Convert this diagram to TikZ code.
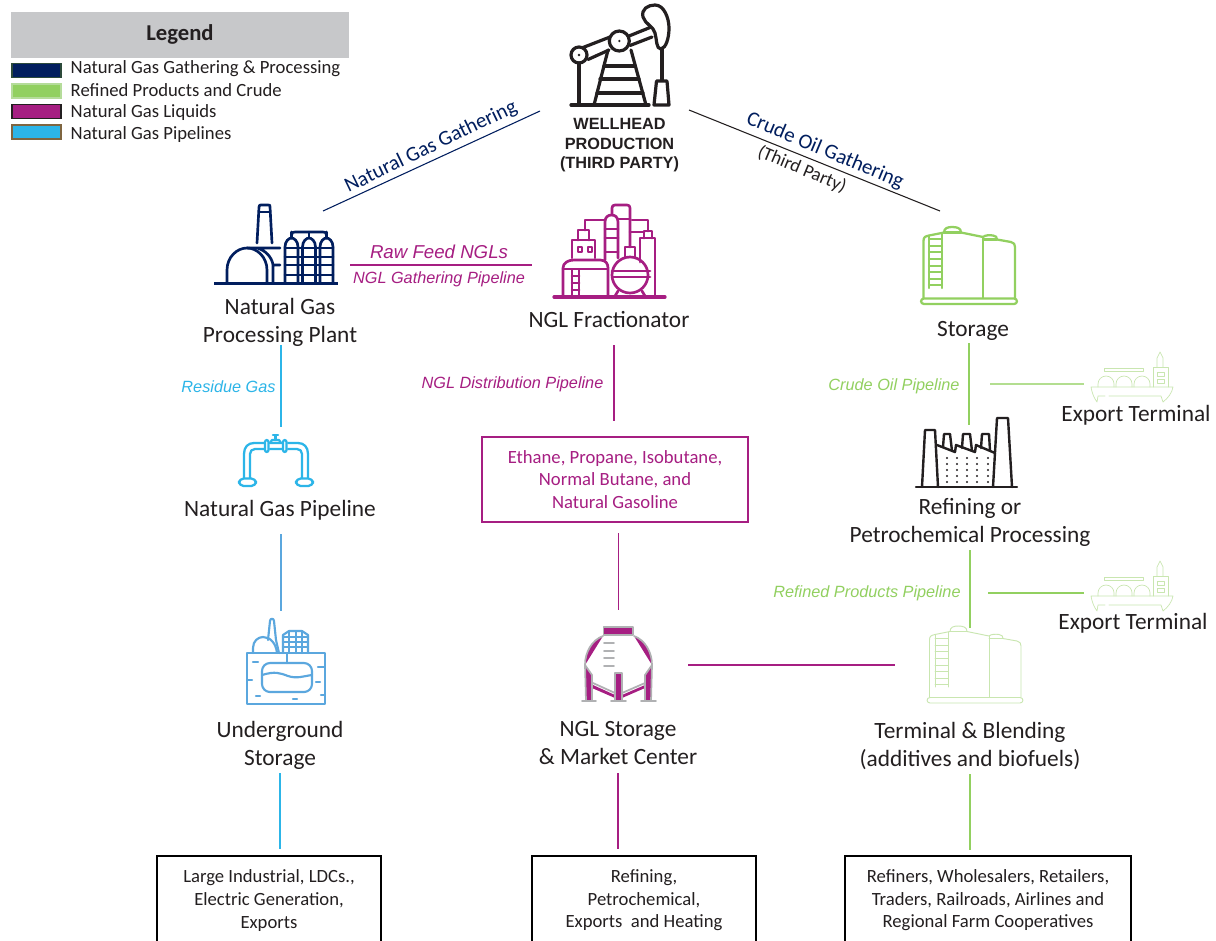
\documentclass[tikz,border=0pt]{standalone}
\usepackage{fontspec}
\setmainfont{Carlito}
\newfontfamily\arialf{Liberation Sans}
\definecolor{navyc}{HTML}{011E5E}
\definecolor{greenc}{HTML}{92D060}
\definecolor{magc}{HTML}{A61E82}
\definecolor{cyanc}{HTML}{2CB5E8}
\definecolor{blueic}{HTML}{5BA7DE}
\definecolor{darkc}{HTML}{231F20}
\definecolor{greyc}{HTML}{C7C8CA}
\definecolor{paleg}{HTML}{C9E6B0}
\definecolor{midgrey}{HTML}{B0B1B3}
\tikzset{
  lab/.style={text=darkc,align=center,font=\fontsize{17.5}{21}\selectfont},
  leg/.style={text=darkc,anchor=west,font=\fontsize{14}{15}\selectfont},
  itl/.style={font=\arialf\itshape\fontsize{12.2}{14}\selectfont},
  boxt/.style={text=darkc,align=center,font=\fontsize{14}{16.9}\selectfont},
  endbox/.style={boxt,draw=black,line width=.9pt,minimum height=66.75pt,inner sep=0pt},
  conn/.style={line width=1pt},
  swatch/.style={line width=1.2pt},
  ico/.style={line cap=round,line join=round},
  pics/tank/.style={code={
    \draw[rounded corners=2.2] (921,298.5) rectangle (1017,304);
    \draw (923.5,298) -- (923.5,241) .. controls (923.5,237) and (925,236.5) .. (929,235.5) -- (944,232.5)
      .. controls (944,228) and (948,227) .. (952,227) .. controls (957,227) and (961,228) .. (961,232.5) -- (983,237)
      .. controls (985,235) and (990,235) .. (993,235.5) .. controls (996,236) and (997,237) .. (997,239.5) -- (1011,242)
      .. controls (1014,243) and (1015,244) .. (1015,247) -- (1015,298);
    \draw (961,232.5) -- (944,232.5);
    \draw (983,237) -- (983,298);
    \draw (983,239.5) -- (997,239.5);
    \draw (929,236) -- (929,288) (942,233) -- (942,288);
    \foreach \yy in {239,246,252,259,266,272,279,285} \draw (929,\yy) -- (942,\yy);
  }},
  pics/ship/.style={code={
    \draw (1091,387) -- (1173,387) .. controls (1172,393) and (1168,398) .. (1163,402) -- (1161,396) -- (1109,396)
      (1105,396) -- (1098,396) -- (1097,402) .. controls (1094,398) and (1092,393) .. (1091,387);
    \foreach \cx in {1106,1124,1142} \draw (\cx-8,387) -- (\cx-8,384) arc[start angle=180,end angle=360,radius=8] -- (\cx+8,387);
    \draw (1104,368) -- (1143,368) -- (1143,371) -- (1104,371) -- cycle;
    \draw (1153,387) -- (1153,367) -- (1168,367) -- (1168,387);
    \draw (1157,367) -- (1157,358) -- (1160,352) -- (1163,358) -- (1163,367);
    \draw (1157,372) rectangle (1164,376) (1157,379) rectangle (1164,383);
  }}
}
\begin{document}
\begin{tikzpicture}[x=0.75pt,y=-0.75pt]
\useasboundingbox (0,0) rectangle (1216,940);
\clip (0,0) rectangle (1216,940);
\fill[white] (0,0) rectangle (1216,940);

% legend
\node[fill=greyc,minimum width=253.5pt,minimum height=34.5pt,inner sep=0pt,text=darkc,font=\bfseries\fontsize{17}{18}\selectfont] (legendtitle) at (180,34.5) {Legend};
\node[draw={rgb,255:red,44;green,74;blue,58},fill=navyc,swatch,minimum width=37pt,minimum height=10.5pt,inner sep=0pt] (sw1) at (36.5,70.5) {};
\node[draw={rgb,255:red,181;green,220;blue,154},fill=greenc,swatch,minimum width=37pt,minimum height=10.5pt,inner sep=0pt] (sw2) at (36.5,91) {};
\node[draw=darkc,fill=magc,swatch,minimum width=37pt,minimum height=10.5pt,inner sep=0pt] (sw3) at (36.5,111.5) {};
\node[draw={rgb,255:red,127;green,101;blue,64},fill=cyanc,swatch,minimum width=37pt,minimum height=10.5pt,inner sep=0pt] (sw4) at (36.5,132) {};
\node[leg] (lg1) at (66,68.5) {Natural Gas Gathering \& Processing};
\node[leg] (lg2) at (66,90) {Refined Products and Crude};
\node[leg] (lg3) at (66,112.5) {Natural Gas Liquids};
\node[leg] (lg4) at (66,135) {Natural Gas Pipelines};

% pump jack
\begin{scope}[ico,draw=darkc,line width=2.4pt]
\draw (571,105) -- (649,105);
\draw (579,63) -- (579,105);
\draw (579,55) circle[radius=8];
\draw (619.3,41) circle[radius=10];
\fill[darkc] (579,55) circle[radius=1.3] (619.3,41) circle[radius=1.3];
\draw (583,47.5) -- (610,37) (588,59.5) -- (609,50);
\draw (629,36) -- (650,27.5) (630,45.5) -- (652,37);
\draw (608,50) -- (594,105) (631,50) -- (646,105);
\draw (604,66) -- (635,66) (600,79) -- (639,79) (597,93) -- (643,93);
\draw (643,17) .. controls (641,9) and (648,5) .. (655,5) .. controls (664,5) and (669,18) .. (669,28)
  .. controls (669,38) and (666,48) .. (661,49) .. controls (656,49) and (657,40) .. (655,33) .. controls (654,27) and (645,24) .. (643,17) -- cycle;
\draw (662,49) -- (662,80);
\draw (656.5,81) -- (667,81) -- (669,105) -- (654,105) -- cycle;
\end{scope}
\node[font=\arialf\bfseries\fontsize{12.2}{14.6}\selectfont,text=darkc,align=center] (wellhead) at (619.5,145.5) {WELLHEAD\\PRODUCTION\\(THIRD PARTY)};

% gas plant
\begin{scope}[ico,draw=navyc,line width=2pt]
\draw[line width=2.4pt,line cap=butt] (214,283.5) -- (338,283.5);
\draw (257,243) -- (259,207) .. controls (259,205) and (260,205) .. (261,205) -- (268,205) .. controls (270,205) and (270,205) .. (270,207) -- (272,243);
\draw (259,212) -- (270,212);
\draw (227,283) -- (227,270) .. controls (227,257) and (237,248) .. (247,248) .. controls (257,248) and (267,257) .. (267,270) -- (267,283);
\draw (247,248) -- (280,248) (257,248) .. controls (265,250) and (272,257) .. (273,265) -- (280,265) (273,265) -- (273,283);
\foreach \tx in {285,302.5,320} {
  \draw (\tx,283) -- (\tx,247) .. controls (\tx,241) and (\tx+4,238) .. (\tx+6.5,238) .. controls (\tx+9,238) and (\tx+13,241) .. (\tx+13,247) -- (\tx+13,283);
  \foreach \yy in {248,257,265,275} \draw (\tx,\yy) -- (\tx+13,\yy);
  \draw (\tx+6.5,238) -- (\tx+6.5,232);
}
\draw (291.5,238) -- (291.5,235) .. controls (291.5,232.5) and (293,232) .. (295,232) -- (323,232) .. controls (325,232) and (326.5,232.5) .. (326.5,235) -- (326.5,238);
\draw (298,248) -- (302.5,248) (298,257) -- (302.5,257) (298,265) -- (302.5,265) (298,275) -- (302.5,275);
\draw (315.5,248) -- (320,248) (315.5,257) -- (320,257) (315.5,265) -- (320,265) (315.5,275) -- (320,275);
\end{scope}
\node[lab] (plant) at (280,322) {Natural Gas\\[0pt] Processing Plant};

% fractionator
\begin{scope}[ico,draw=magc,line width=2pt]
\draw[line width=2.4pt] (554,297) -- (665,297);
\draw (563,296) -- (563,268) .. controls (563,263) and (568,260) .. (574,260) -- (600,260) .. controls (606,260) and (608,264) .. (608,268) -- (608,296);
\draw (563,269) -- (607,269) (572,270) -- (572,296) (579,270) -- (579,296);
\draw (572,276) -- (579,276) (572,283) -- (579,283) (572,290) -- (579,290);
\draw (572,258) -- (572,240) -- (595,240) -- (595,258);
\draw (578,240) -- (578,230) -- (589,230) -- (589,240);
\draw (578,247) rectangle (582,252) (588,247) rectangle (592,252);
\draw (585,230) -- (585,220) -- (605,220);
\draw (605,260) -- (605,222) .. controls (605,217) and (608,215) .. (611.5,215) .. controls (615,215) and (618,217) .. (618,222) -- (618,258);
\draw (605,229) -- (618,229) (605,238) -- (618,238) (605,252) -- (618,252);
\draw (612,215) -- (612,208) .. controls (612,206) and (613,205) .. (615,205) -- (627,205) .. controls (629,205) and (630,206) .. (630,208) -- (630,247);
\draw (618,219) -- (630,219);
\draw (630,275) circle[radius=18];
\draw (625,257) -- (625,247) -- (635,247) -- (635,257);
\draw (612,271) -- (650,271) (612,277) -- (650,277);
\draw (618,291) -- (615,296) (642,291) -- (645,296);
\draw (640,262) -- (640,238) -- (655,238) -- (655,296);
\draw (644,238) -- (644,231) -- (652,231) -- (652,238);
\draw (632,220) -- (648,220) -- (648,231);
\draw (630,232) -- (644,232);
\end{scope}
\node[lab] (fract) at (609,319.5) {NGL Fractionator};

% storage
\pic[ico,draw=greenc,line width=1.7pt] (storagetank) at (0,0) {tank};
\node[lab] (storage) at (973,330.5) {Storage};

% ships
\pic[ico,draw=paleg,line width=.5pt,double=white,double distance=.7pt] (shipa) at (0,0) {ship};
\pic[ico,draw=paleg,line width=.5pt,double=white,double distance=.7pt] (shipb) at (0,209) {ship};
\node[lab] (exp1) at (1136,415.5) {Export Terminal};
\node[lab] (exp2) at (1133,623.5) {Export Terminal};

% factory
\begin{scope}[ico,draw=darkc,line width=1.8pt]
\draw (916,487) -- (1017,487);
\draw (922,487) -- (925,430) -- (935,430) -- (938,487);
\draw (993,487) -- (997,418) -- (1008,418) -- (1012,487);
\draw (937,445) -- (955,452) -- (956,445) -- (975,452) -- (976,445) -- (995,453);
\draw (943,447) -- (944,434) -- (950,434) -- (952,451);
\draw (962,448) -- (963,434) -- (970,434) -- (972,451);
\draw (981,448) -- (982,434) -- (989,434) -- (990,451);
\foreach \dx in {947,957,967,977,988} \foreach \dy in {458,464,470,476,482}
  \fill[darkc] (\dx,\dy) circle[radius=1.2];
\end{scope}
\node[lab] (refin) at (970,522.5) {Refining or\\[0pt] Petrochemical Processing};

% pipeline
\begin{scope}[ico,draw=cyanc,line width=1.7pt]
\draw (244,478) -- (244,454) .. controls (244,447) and (248,443) .. (254,443) -- (264,443) (270,443) -- (282,443) (288,443) -- (298,443) .. controls (304,443) and (308,447) .. (308,454) -- (308,478);
\draw (250,478) -- (250,454) .. controls (250,451) and (252,449) .. (255,449) -- (264,449) (270,449) -- (282,449) (288,449) -- (297,449) .. controls (300,449) and (302,451) .. (302,454) -- (302,478);
\draw[rounded corners=3.5] (239,478.5) rectangle (256,486);
\draw[rounded corners=3.5] (296,478.5) rectangle (313,486);
\draw[rounded corners=1.5] (265,440) rectangle (268.5,452);
\draw[rounded corners=1.5] (283,440) rectangle (286.5,452);
\draw (270,443) -- (272,440) -- (279,440) -- (281,443);
\draw (275.5,440) -- (275.5,436) (273,435) -- (278,435);
\end{scope}
\node[lab] (ngp) at (280,510.5) {Natural Gas Pipeline};

% underground storage
\begin{scope}[ico,draw=blueic,line width=1.6pt]
\draw (247,653) rectangle (325,704);
\draw[rounded corners=6] (262,663) rectangle (312,692);
\draw (287,653) -- (287,663);
\draw (262,675) .. controls (275,671) and (280,673) .. (288,676) .. controls (297,679) and (304,676) .. (312,675);
\draw (253,653) -- (253,648) .. controls (253,641) and (258,637) .. (263,637) .. controls (270,637) and (276,643) .. (277,653);
\draw (268,640) -- (270,621) .. controls (270,618) and (274,618) .. (274,621) -- (276,640) -- (279,653);
\draw (283,653) -- (283,635) -- (289,631) -- (302,631) -- (308,635) -- (308,653);
\foreach \yy in {637,642,647} \draw (283,\yy) -- (308,\yy);
\foreach \xx in {289,296,302} \draw (\xx,632) -- (\xx,653);
\draw (253,662) -- (258,662) (248,680) -- (252,680) (256,696) -- (260,696) (293,699) -- (297,699) (318,667) -- (324,667) (316,682) -- (320,682) (321,695) -- (324,695);
\end{scope}
\node[lab] (ugs) at (280,745) {Underground\\[0pt] Storage};

% NGL storage
\fill[magc] (603,636) -- (585,665) .. controls (585,652) and (592,640) .. (603,636) -- cycle;
\fill[magc] (634,636) -- (652,665) .. controls (652,652) and (645,640) .. (634,636) -- cycle;
\fill[magc] (593,685) -- (615,695) -- (615,698) -- (592,688) -- cycle;
\fill[magc] (645,685) -- (622,695) -- (622,698) -- (645,688) -- cycle;
\begin{scope}[ico,draw=midgrey,line width=1.3pt]
\draw[fill=magc] (603.5,627) rectangle (633,635);
\draw (603,636) .. controls (592,640) and (585,652) .. (585,665);
\draw (634,636) .. controls (645,640) and (652,652) .. (652,665);
\draw[fill=magc] (585,665) -- (592,675) -- (592,701) -- (586,701) -- cycle;
\draw[fill=magc] (652,665) -- (645,675) -- (645,701) -- (651,701) -- cycle;
\draw[fill=magc] (615,673) rectangle (622,701);
\draw (593,683) -- (615,693) (645,683) -- (622,693);
\draw (582,701) -- (596,701) (611,701) -- (626,701) (641,701) -- (656,701);
\draw (604,643) -- (614,643) (604,651) -- (614,651) (604,658) -- (614,658) (604,666) -- (614,666);
\end{scope}
\node[lab] (ngls) at (618,743) {NGL Storage\\[0pt] \& Market Center};

% terminal tank
\pic[ico,draw=paleg,line width=.7pt,double=white,double distance=.8pt] (termtank) at (6,399) {tank};
\node[lab] (term) at (970,746) {Terminal \& Blending\\[0pt] (additives and biofuels)};

% middle and end boxes
\node[boxt,draw=magc,line width=1.2pt,text=magc,minimum width=199.5pt,minimum height=63.75pt,inner sep=0pt] (products) at (615,479.5) {Ethane, Propane, Isobutane,\\Normal Butane, and\\Natural Gasoline};
\node[endbox,minimum width=168pt] (end1) at (269,900.5) {Large Industrial, LDCs.,\\Electric Generation,\\Exports};
\node[endbox,minimum width=168pt] (end2) at (644,900.5) {Refining,\\Petrochemical,\\Exports\ \ and Heating};
\node[endbox,minimum width=214.5pt] (end3) at (988,900.5) {Refiners, Wholesalers, Retailers,\\Traders, Railroads, Airlines and\\Regional Farm Cooperatives};

% connector labels
\node[rotate=25.8,text=navyc,font=\fontsize{15.7}{16}\selectfont] (l1) at (431,147) {Natural Gas Gathering};
\node[rotate=-22.7,text=navyc,font=\fontsize{15.7}{16}\selectfont] (l2) at (825,151) {Crude Oil Gathering};
\node[rotate=-22.7,text=darkc,font=\fontsize{14}{14}\selectfont] (l3) at (802,169.5) {(Third Party)};
\node[itl,text=magc,font=\arialf\itshape\fontsize{14}{16}\selectfont] (l4) at (439,251.5) {Raw Feed NGLs};
\node[itl,text=magc] (l5) at (439,279) {NGL Gathering Pipeline};
\node[itl,text=cyanc] (l6) at (228.5,387) {Residue Gas};
\node[itl,text=magc] (l7) at (512.5,384) {NGL Distribution Pipeline};
\node[itl,text=greenc] (l8) at (894,386) {Crude Oil Pipeline};
\node[itl,text=greenc] (l9) at (867,593) {Refined Products Pipeline};

% connector endpoints
\coordinate (a1) at (323,211); \coordinate (a2) at (540,111);
\coordinate (b1) at (689,110); \coordinate (b2) at (940,211);
\coordinate (c1) at (350,265); \coordinate (c2) at (532,265);
\coordinate (d1) at (281,345); \coordinate (d2) at (281,427);
\coordinate (e1) at (281,534); \coordinate (e2) at (281,611);
\coordinate (f1) at (280,773); \coordinate (f2) at (280,849);
\coordinate (g1) at (614,345); \coordinate (g2) at (614,421);
\coordinate (h1) at (618,533); \coordinate (h2) at (618,610);
\coordinate (i1) at (688,665); \coordinate (i2) at (895,665);
\coordinate (j1) at (618,773); \coordinate (j2) at (618,849);
\coordinate (k1) at (969,343); \coordinate (k2) at (969,425);
\coordinate (m1) at (990,384); \coordinate (m2) at (1084,384);
\coordinate (n1) at (970,550); \coordinate (n2) at (970,628);
\coordinate (o1) at (988,593); \coordinate (o2) at (1084,593);
\coordinate (p1) at (970,774); \coordinate (p2) at (970,850);

\draw[conn,navyc,line width=.8pt] (a1) -- (a2);
\draw[conn,darkc,line width=.8pt] (b1) -- (b2);
\draw[conn,magc,line width=1.3pt] (c1) -- (c2);
\draw[conn,cyanc,line width=1.4pt] (d1) -- (d2);
\draw[conn,blueic,line width=.8pt] (e1) -- (e2);
\draw[conn,cyanc,line width=.9pt] (f1) -- (f2);
\draw[conn,magc,line width=1.2pt] (g1) -- (g2);
\draw[conn,magc,line width=.7pt] (h1) -- (h2);
\draw[conn,magc,line width=.8pt] (i1) -- (i2);
\draw[conn,magc,line width=1.7pt] (j1) -- (j2);
\draw[conn,greenc,line width=1.4pt] (k1) -- (k2);
\draw[conn,greenc!70!white] (m1) -- (m2);
\draw[conn,greenc,line width=1.4pt] (n1) -- (n2);
\draw[conn,greenc,line width=1.2pt] (o1) -- (o2);
\draw[conn,greenc,line width=.8pt] (p1) -- (p2);
\end{tikzpicture}
\end{document}
